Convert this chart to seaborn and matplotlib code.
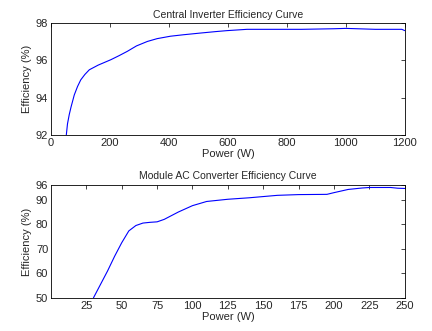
import numpy as np
import pandas as pd
import matplotlib
matplotlib.use("Agg")
import matplotlib.pyplot as plt
import seaborn as sns

# central inverter curve
central_power = [52, 56, 62, 68, 79, 90, 101, 115, 130, 160, 203, 230, 259, 290, 327, 360, 405, 450, 507, 560, 597, 665, 750, 850, 958, 1000, 1040, 1100, 1190, 1200]
central_eff = [92.0, 92.6, 93.1, 93.5, 94.15, 94.6, 94.96, 95.25, 95.5, 95.75, 96.04, 96.25, 96.49, 96.78, 97.02, 97.17, 97.3, 97.38, 97.47, 97.55, 97.6, 97.67, 97.67, 97.67, 97.7, 97.72, 97.7, 97.67, 97.67, 97.6]

# module AC converter curve
module_power = [30, 35, 40, 45, 50, 55, 60, 65, 70, 75, 80, 90, 100, 110, 125, 140, 150, 160, 175, 195, 200, 210, 220, 225, 240, 245, 250]
module_eff = [50.0, 55.5, 61.0, 67.0, 72.5, 77.3, 79.5, 80.5, 80.8, 81.0, 82.0, 85.0, 87.6, 89.3, 90.2, 90.8, 91.3, 91.8, 92.1, 92.2, 92.9, 94.2, 94.8, 95.0, 95.0, 94.7, 94.6]

central_df = pd.DataFrame({"power": central_power, "eff": central_eff})
module_df = pd.DataFrame({"power": module_power, "eff": module_eff})

sns.set_style("white")
plt.rcParams["font.family"] = ["Liberation Sans", "DejaVu Sans"]
plt.rcParams["font.size"] = 8
plt.rcParams["xtick.direction"] = "in"
plt.rcParams["ytick.direction"] = "in"
plt.rcParams["xtick.top"] = True
plt.rcParams["ytick.right"] = True
plt.rcParams["xtick.major.size"] = 3
plt.rcParams["ytick.major.size"] = 3
plt.rcParams["axes.edgecolor"] = "black"
plt.rcParams["axes.linewidth"] = 0.6

fig = plt.figure(figsize=(4.32, 3.31), dpi=100)
ax1 = fig.add_axes([0.118, 0.592, 0.819, 0.338])
ax2 = fig.add_axes([0.118, 0.100, 0.819, 0.341])

sns.lineplot(data=central_df, x="power", y="eff", ax=ax1, color="#0000ff", linewidth=0.8)
ax1.set_xlim(0, 1200)
ax1.set_ylim(92, 98)
ax1.set_xticks([0, 200, 400, 600, 800, 1000, 1200])
ax1.set_yticks([92, 94, 96, 98])
ax1.set_title("Central Inverter Efficiency Curve", fontsize=7.5, pad=4)
ax1.set_xlabel("Power (W)", fontsize=8, labelpad=1)
ax1.set_ylabel("Efficiency (%)", fontsize=8, labelpad=3)

sns.lineplot(data=module_df, x="power", y="eff", ax=ax2, color="#0000ff", linewidth=0.8)
ax2.set_xlim(0, 250)
ax2.set_ylim(50, 96)
ax2.set_xticks([25, 50, 75, 100, 125, 150, 175, 200, 225, 250])
ax2.set_yticks([50, 60, 70, 80, 90, 96])
ax2.set_title("Module AC Converter Efficiency Curve", fontsize=7.5, pad=4)
ax2.set_xlabel("Power (W)", fontsize=8, labelpad=1)
ax2.set_ylabel("Efficiency (%)", fontsize=8, labelpad=3)

for ax in (ax1, ax2):
    ax.tick_params(labelsize=8, pad=2, width=0.6)
    for s in ax.spines.values():
        s.set_visible(True)

fig.savefig("out.png", dpi=100)
